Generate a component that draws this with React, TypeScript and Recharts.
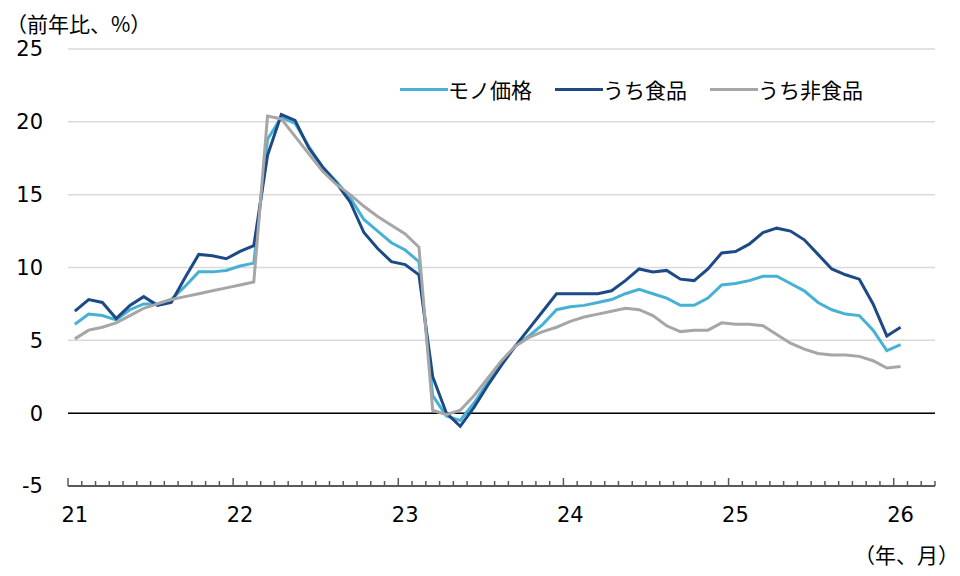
import { CartesianGrid, Legend, Line, LineChart, ReferenceLine, XAxis, YAxis } from "recharts";

// 前年比（%）, 2021年1月〜2026年1月
const MONO = [
  6.1, 6.8, 6.7, 6.4, 7.1, 7.5, 7.5, 7.8, 8.7, 9.7, 9.7, 9.8,
  10.1, 10.3, 18.8, 20.3, 19.9, 18.3, 16.9, 15.9, 14.8, 13.3, 12.5, 11.7,
  11.2, 10.4, 1.2, -0.2, -0.5, 0.7, 2.1, 3.4, 4.6, 5.3, 6.1, 7.1,
  7.3, 7.4, 7.6, 7.8, 8.2, 8.5, 8.2, 7.9, 7.4, 7.4, 7.9, 8.8,
  8.9, 9.1, 9.4, 9.4, 8.9, 8.4, 7.6, 7.1, 6.8, 6.7, 5.7, 4.3,
  4.7,
];

const FOOD = [
  7.0, 7.8, 7.6, 6.5, 7.4, 8.0, 7.4, 7.6, 9.3, 10.9, 10.8, 10.6,
  11.1, 11.5, 17.7, 20.5, 20.1, 18.2, 16.9, 15.8, 14.5, 12.4, 11.3, 10.4,
  10.2, 9.5, 2.5, 0.0, -0.9, 0.4, 1.9, 3.3, 4.6, 5.8, 7.0, 8.2,
  8.2, 8.2, 8.2, 8.4, 9.1, 9.9, 9.7, 9.8, 9.2, 9.1, 9.9, 11.0,
  11.1, 11.6, 12.4, 12.7, 12.5, 11.9, 10.9, 9.9, 9.5, 9.2, 7.5, 5.3,
  5.9,
];

const NON_FOOD = [
  5.1, 5.7, 5.9, 6.2, 6.7, 7.2, 7.5, 7.8, 8.0, 8.2, 8.4, 8.6,
  8.8, 9.0, 20.4, 20.2, 19.0, 17.8, 16.6, 15.7, 15.0, 14.2, 13.5, 12.9,
  12.3, 11.4, 0.2, -0.1, 0.2, 1.2, 2.4, 3.6, 4.6, 5.2, 5.6, 5.9,
  6.3, 6.6, 6.8, 7.0, 7.2, 7.1, 6.7, 6.0, 5.6, 5.7, 5.7, 6.2,
  6.1, 6.1, 6.0, 5.4, 4.8, 4.4, 4.1, 4.0, 4.0, 3.9, 3.6, 3.1,
  3.2,
];

const YEARS = ["21", "22", "23", "24", "25", "26"];
const Y_TICKS = [-5, 0, 5, 10, 15, 20, 25];
const SERIES_ORDER = ["mono", "food", "nonFood"];
// axis runs two months past the last observation (to 26/3)
const MONTHS = YEARS.flatMap((y) =>
  Array.from({ length: 12 }, (_, i) => `${y}/${i + 1}`)
).slice(0, MONO.length + 2);

const data = MONTHS.map((m, i) => ({
  m,
  mono: MONO[i] ?? null,
  food: FOOD[i] ?? null,
  nonFood: NON_FOOD[i] ?? null,
}));

const FONT_NUM = "'DejaVu Sans', 'Noto Sans CJK JP', sans-serif";
const FONT_JP = "'Noto Sans CJK JP', sans-serif";
const AXIS_COLOR = "#595959";

function MonthTick(props: any) {
  const { x, y, payload, index } = props;
  const half = payload?.offset || 6.9;
  const [yr, mo] = String(payload.value).split("/");
  const isJan = mo === "1";
  const left = x - half;
  return (
    <g>
      <line x1={left} x2={left} y1={y} y2={y - (isJan ? 8 : 5)} stroke={AXIS_COLOR} strokeWidth={1.5} />
      {index === MONTHS.length - 1 && (
        <line x1={x + half} x2={x + half} y1={y} y2={y - 5} stroke={AXIS_COLOR} strokeWidth={1.5} />
      )}
      {isJan && (
        <text x={x} y={y + 36} textAnchor="middle" fontSize={21} fontFamily={FONT_NUM} fill="#000">
          {yr}
        </text>
      )}
    </g>
  );
}

function LegendRow(props: any) {
  const items = [...(props.payload ?? [])].sort(
    (a: any, b: any) => SERIES_ORDER.indexOf(a.dataKey) - SERIES_ORDER.indexOf(b.dataKey)
  );
  return (
    <div style={{ display: "flex", alignItems: "center", fontFamily: FONT_JP, fontSize: 21, color: "#000" }}>
      {items.map((it: any) => (
        <div key={it.value} style={{ display: "flex", alignItems: "center", marginRight: 23 }}>
          <span style={{ display: "inline-block", width: 48, height: 3, background: it.color }} />
          <span style={{ lineHeight: "21px", whiteSpace: "nowrap" }}>{it.value}</span>
        </div>
      ))}
    </div>
  );
}

export default function App() {
  return (
    <div style={{ position: "absolute", left: 0, top: 0, width: 960, height: 576, background: "#fff" }}>
      <div
        style={{
          position: "absolute",
          left: 6,
          top: 13,
          fontFamily: FONT_JP,
          fontSize: 21,
          lineHeight: "21px",
          color: "#000",
          whiteSpace: "nowrap",
        }}
      >
        （前年比、%）
      </div>
      <LineChart width={960} height={576} data={data} margin={{ top: 49, right: 25, bottom: 50, left: 8 }}>
        <CartesianGrid vertical={false} stroke="#d9d9d9" strokeWidth={1.5} />
        <XAxis
          dataKey="m"
          scale="band"
          interval={0}
          height={40}
          tickSize={0}
          tickMargin={0}
          tick={<MonthTick />}
          axisLine={{ stroke: AXIS_COLOR, strokeWidth: 2 }}
          tickLine={false}
        />
        <YAxis
          domain={[-5, 25]}
          ticks={Y_TICKS}
          width={60}
          axisLine={false}
          tickLine={false}
          tickMargin={19}
          tick={{ fontSize: 21, fill: "#000", fontFamily: FONT_NUM }}
        />
        <ReferenceLine y={0} stroke="#000" strokeWidth={1.5} />
        <Legend
          layout="vertical"
          align="center"
          verticalAlign="middle"
          content={<LegendRow />}
          wrapperStyle={{ left: 400, top: 79, width: "auto", height: "auto" }}
        />
        <Line
          type="linear"
          dataKey="mono"
          name="モノ価格"
          stroke="#46b1d4"
          strokeWidth={3}
          dot={false}
          isAnimationActive={false}
        />
        <Line
          type="linear"
          dataKey="food"
          name="うち食品"
          stroke="#1d4a87"
          strokeWidth={3}
          dot={false}
          isAnimationActive={false}
        />
        <Line
          type="linear"
          dataKey="nonFood"
          name="うち非食品"
          stroke="#a6a6a6"
          strokeWidth={3}
          dot={false}
          isAnimationActive={false}
        />
      </LineChart>
      <div
        style={{
          position: "absolute",
          right: 1,
          top: 544,
          fontFamily: FONT_JP,
          fontSize: 21,
          lineHeight: "21px",
          color: "#000",
          whiteSpace: "nowrap",
        }}
      >
        （年、月）
      </div>
    </div>
  );
}
